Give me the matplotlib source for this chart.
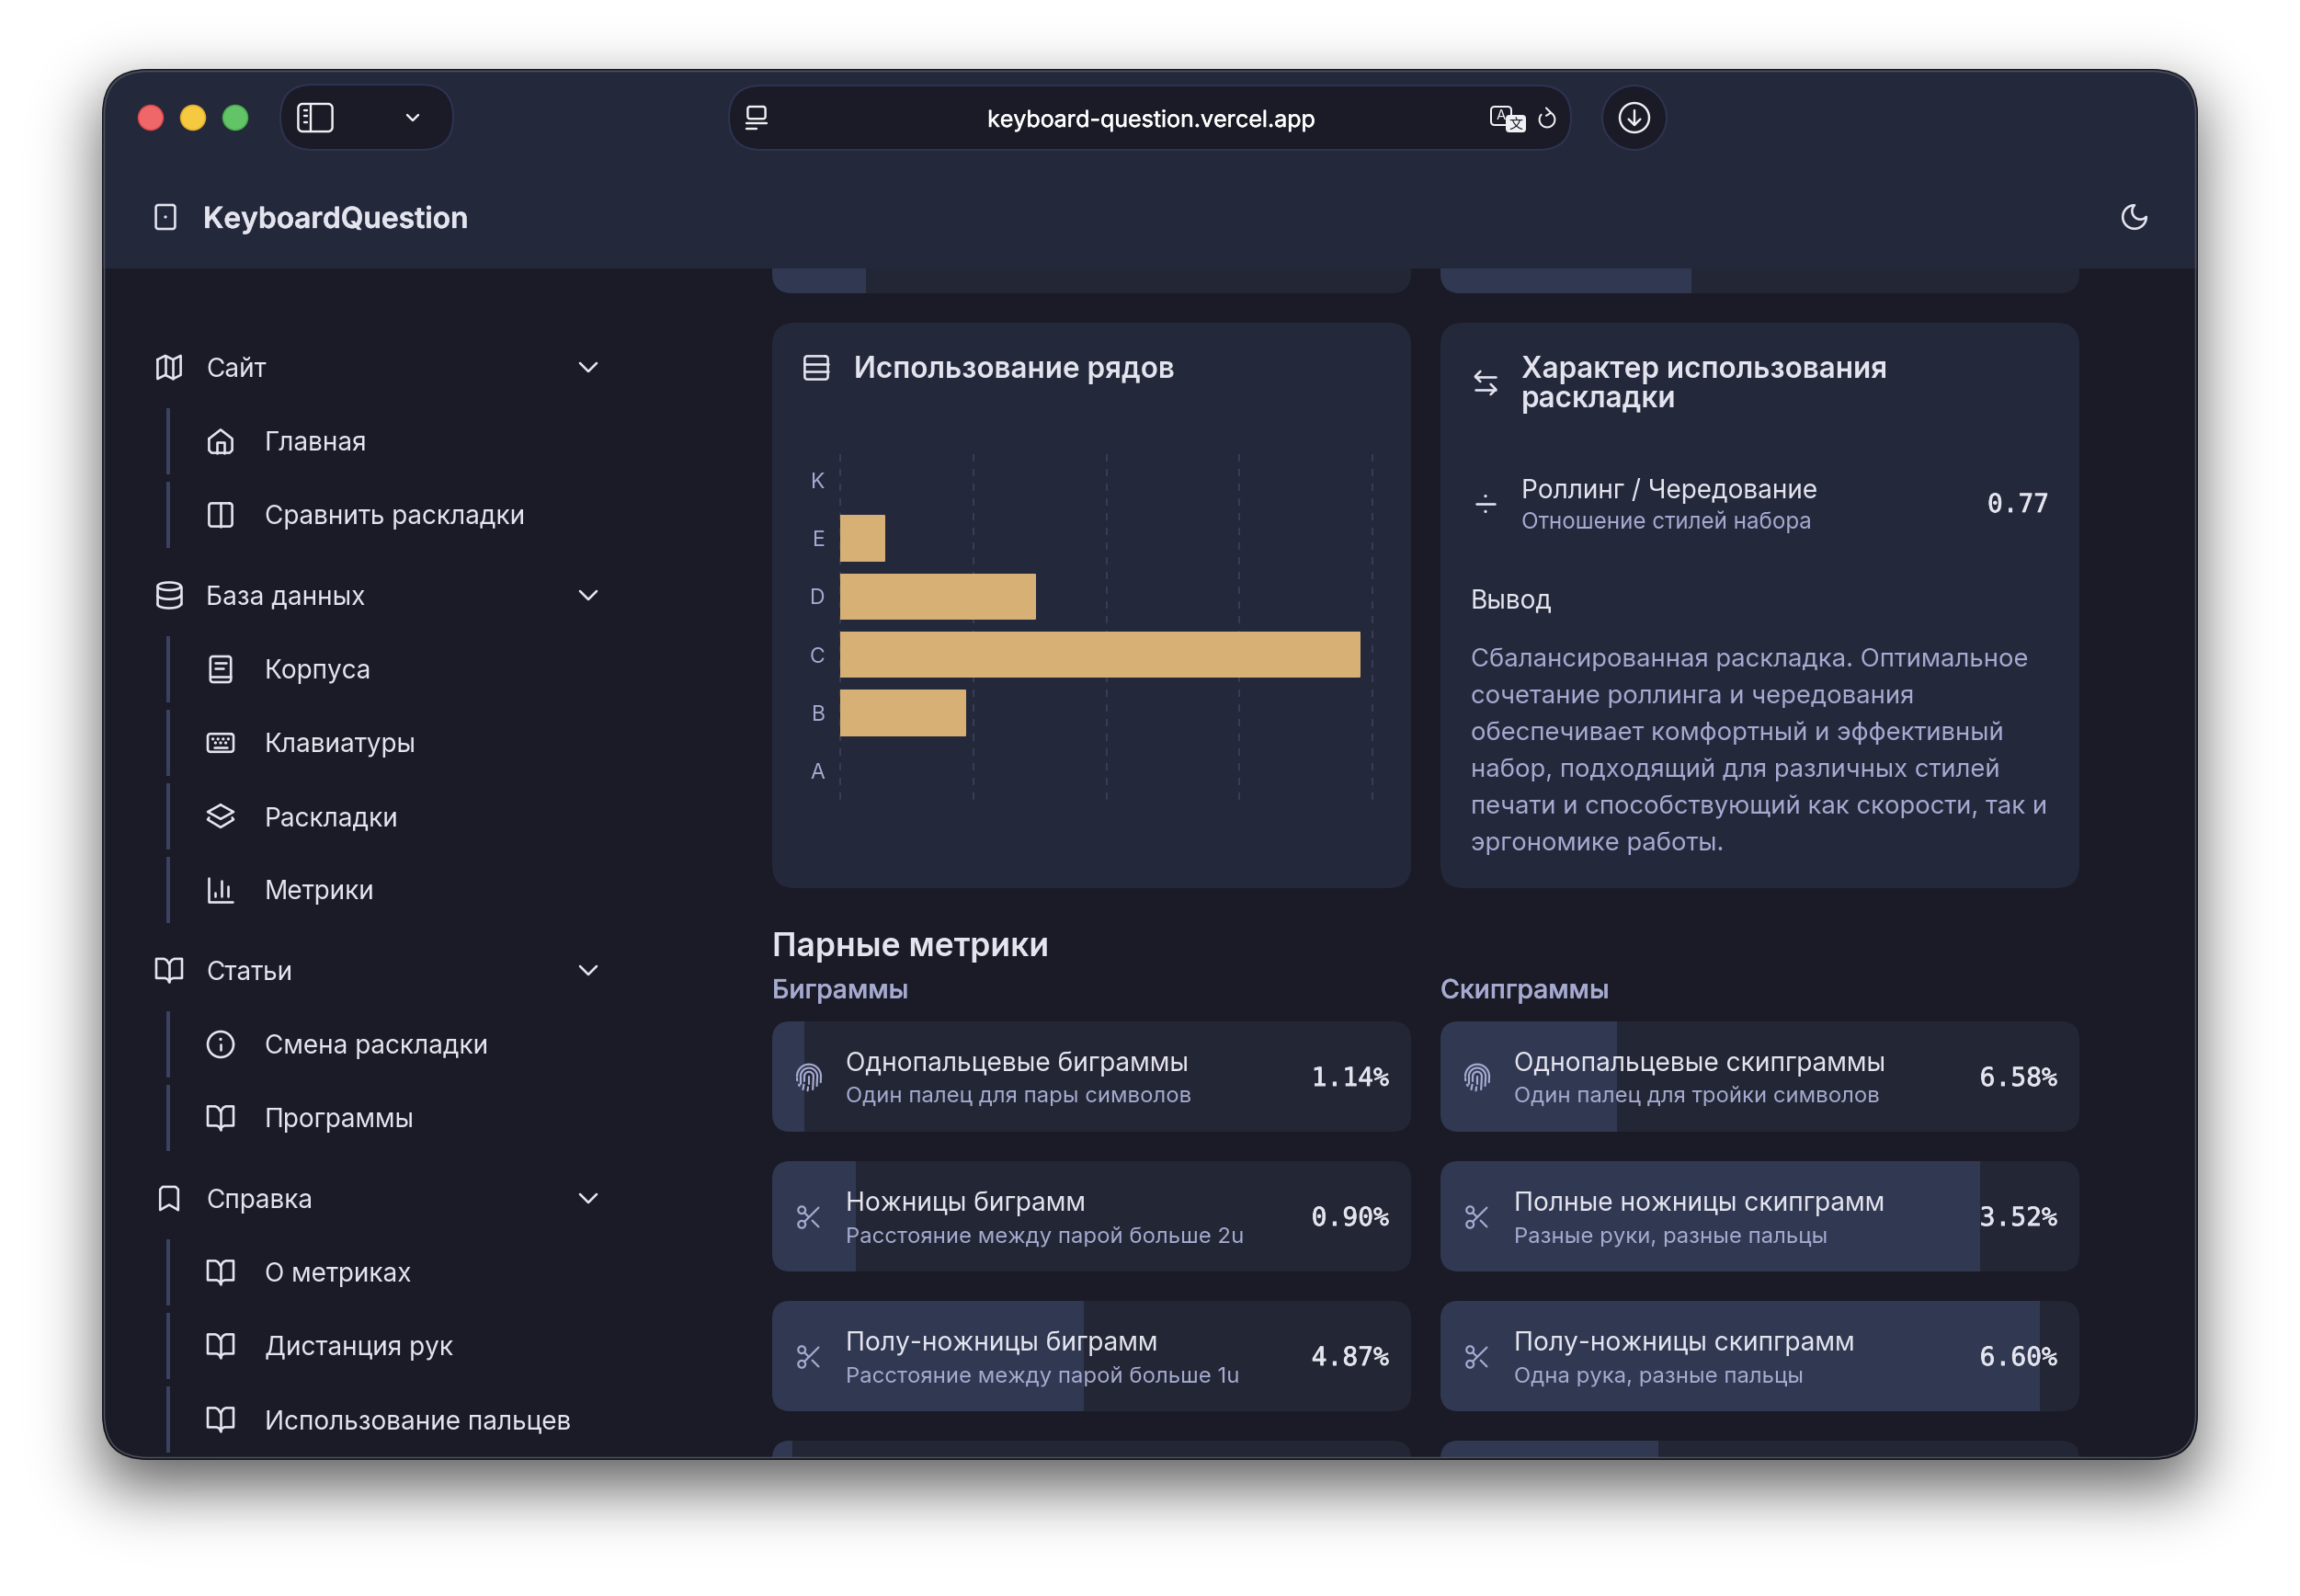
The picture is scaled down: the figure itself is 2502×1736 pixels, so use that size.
import math
import numpy as np
import matplotlib
matplotlib.use("Agg")
import matplotlib.pyplot as plt
import matplotlib.patheffects as pe
from matplotlib.patches import FancyBboxPatch, Rectangle, Circle

W, H = 2502, 1736

BG = "#1a1b26"
PANEL = "#24283b"
CARD = "#232634"
FILL = "#313852"
LINE = "#3b4163"
TEXT = "#e3e4ee"
MUTED = "#a5aad0"
GOLD = "#d6b075"

# sidebar content
nav_sections = ["Сайт", "База данных", "Статьи", "Справка"]
nav_section_icons = ["map", "database", "book", "bookmark"]
nav_items = [
    ["Главная", "Сравнить раскладки"],
    ["Корпуса", "Клавиатуры", "Раскладки", "Метрики"],
    ["Смена раскладки", "Программы"],
    ["О метриках", "Дистанция рук", "Использование пальцев"],
]
nav_item_icons = [
    ["home", "columns"],
    ["booktext", "keyboard", "layers", "chart"],
    ["info", "book"],
    ["book", "book", "book"],
]

# row usage chart
rows = ["K", "E", "D", "C", "B", "A"]
row_usage = [0.0, 5.0, 22.0, 58.6, 14.1, 0.0]
row_ticks = [0, 15, 30, 45, 60]

# metrics
bigram_titles = ["Однопальцевые биграммы", "Ножницы биграмм", "Полу-ножницы биграмм"]
bigram_subs = ["Один палец для пары символов", "Расстояние между парой больше 2u", "Расстояние между парой больше 1u"]
bigram_values = ["1.14%", "0.90%", "4.87%"]
bigram_fill = [5.0, 13.1, 48.8, 3.2]
bigram_top_fill = 14.7

skip_titles = ["Однопальцевые скипграммы", "Полные ножницы скипграмм", "Полу-ножницы скипграмм"]
skip_subs = ["Один палец для тройки символов", "Разные руки, разные пальцы", "Одна рука, разные пальцы"]
skip_values = ["6.58%", "3.52%", "6.60%"]
skip_fill = [27.6, 84.5, 93.8, 34.1]
skip_top_fill = 39.3

metric_icons = ["finger", "scissors", "scissors"]

summary_lines = [
    "Сбалансированная раскладка. Оптимальное",
    "сочетание роллинга и чередования",
    "обеспечивает комфортный и эффективный",
    "набор, подходящий для различных стилей",
    "печати и способствующий как скорости, так и",
    "эргономике работы.",
]

plt.rcParams["font.family"] = ["Inter", "DejaVu Sans"]

fig = plt.figure(figsize=(W / 100, H / 100), dpi=100, facecolor="white")
ax = fig.add_axes([0, 0, 1, 1])
ax.axis("off")

# window shadow
erf = np.vectorize(math.erf)
xs = np.arange(W) + 0.5
ys = np.arange(H) + 0.5
sigma = 35 * math.sqrt(2)
fx = 0.5 * (erf((xs - 112) / sigma) - erf((xs - 2390) / sigma))
fy = 0.5 * (erf((ys - 104) / sigma) - erf((ys - 1616) / sigma))
shadow = np.zeros((H, W, 4))
shadow[..., 3] = 0.66 * np.outer(fy, fx)
ax.imshow(shadow, extent=(0, W, H, 0), aspect="auto", zorder=0)
ax.set_xlim(0, W)
ax.set_ylim(H, 0)


def px(v):
    return v * 0.72


def rbox(x0, y0, x1, y1, r, fc="none", ec="none", lw=0, z=2):
    p = FancyBboxPatch((x0, y0), x1 - x0, y1 - y0, boxstyle=f"round,pad=0,rounding_size={r}",
                       fc=fc, ec=ec, lw=px(lw), zorder=z)
    ax.add_patch(p)
    return p


def label(x, y, s, size, color=TEXT, weight="normal", ha="left", family=None, z=6, heavy=0):
    # y is the visual middle of the line, heavy thickens the strokes a little
    kw = {"family": family} if family else {}
    t = ax.text(x, y + 0.36 * size, s, fontsize=px(size), color=color, fontweight=weight,
                ha=ha, va="baseline", zorder=z, **kw)
    if heavy:
        t.set_path_effects([pe.withStroke(linewidth=px(heavy), foreground=color)])
    return t


def arc_pts(cx, cy, r, a0, a1, n=40, ry=None):
    t = np.radians(np.linspace(a0, a1, n))
    return list(zip(cx + r * np.cos(t), cy + (ry if ry else r) * np.sin(t)))


def rrect_pts(x0, y0, x1, y1, r):
    pts = []
    pts += arc_pts(x1 - r, y0 + r, r, -90, 0, 8)
    pts += arc_pts(x1 - r, y1 - r, r, 0, 90, 8)
    pts += arc_pts(x0 + r, y1 - r, r, 90, 180, 8)
    pts += arc_pts(x0 + r, y0 + r, r, 180, 270, 8)
    pts.append(pts[0])
    return pts


def dot(x, y):
    return [(x, y)]


ICONS = {
    "map": [[(3, 6), (9, 3), (15, 6), (21, 3), (21, 18), (15, 21), (9, 18), (3, 21), (3, 6)],
            [(9, 3), (9, 18)], [(15, 6), (15, 21)]],
    "home": [[(3, 10), (12, 3), (21, 10), (21, 19), (19, 21), (5, 21), (3, 19), (3, 10)],
             [(9, 21), (9, 13), (15, 13), (15, 21)]],
    "columns": [rrect_pts(3, 3, 21, 21, 2), [(12, 3), (12, 21)]],
    "database": [arc_pts(12, 5, 9, 0, 360, ry=3), [(3, 5), (3, 19)], [(21, 5), (21, 19)],
                 arc_pts(12, 12, 9, 0, 180, ry=3), arc_pts(12, 19, 9, 0, 180, ry=3)],
    "booktext": [rrect_pts(4, 2, 20, 22, 2), [(4, 18), (20, 18)], [(8, 7), (16, 7)], [(8, 11), (14, 11)]],
    "keyboard": [rrect_pts(2, 5, 22, 19, 2), [(7, 15.5), (17, 15.5)],
                 dot(6, 9), dot(10, 9), dot(14, 9), dot(18, 9), dot(8, 12), dot(12, 12), dot(16, 12)],
    "layers": [[(12, 3), (22, 8.5), (12, 14), (2, 8.5), (12, 3)], [(3, 13), (2, 14.5), (12, 20.5), (22, 14.5), (21, 13)]],
    "chart": [[(3, 3), (3, 21), (21, 21)], [(8, 17), (8, 14)], [(13, 17), (13, 5)], [(18, 17), (18, 9)]],
    "book": [[(12, 7), (12, 21)],
             [(12, 7), (10, 4), (8, 3), (2, 3), (2, 18), (9, 18), (11, 19), (12, 21)],
             [(12, 7), (14, 4), (16, 3), (22, 3), (22, 18), (15, 18), (13, 19), (12, 21)]],
    "bookmark": [[(19, 21), (12, 17), (5, 21), (5, 5), (7, 3), (17, 3), (19, 5), (19, 21)]],
    "info": [arc_pts(12, 12, 10, 0, 360), [(12, 16), (12, 12)], dot(12, 8)],
    "rows": [rrect_pts(3, 3, 21, 21, 2), [(3, 9), (21, 9)], [(3, 15), (21, 15)]],
    "swap": [[(8, 3), (4, 7), (8, 11)], [(4, 7), (20, 7)], [(16, 21), (20, 17), (16, 13)], [(20, 17), (4, 17)]],
    "divide": [[(5, 12), (19, 12)], dot(12, 6), dot(12, 18)],
    "scissors": [arc_pts(6, 6, 3, 0, 360), arc_pts(6, 18, 3, 0, 360), [(8.1, 8.1), (12, 12)],
                 [(20, 4), (8.1, 15.9)], [(14.8, 14.8), (20, 20)]],
    "finger": [arc_pts(12, 11, 10, 180, 360, 30), arc_pts(12, 11, 7, 180, 360, 30), arc_pts(12, 11, 3.8, 180, 360, 20),
               [(2, 12.5), (2.2, 14.5)], [(22, 11), (21.8, 16)], [(5, 11), (5, 17)], [(3.5, 18), (4, 19)],
               [(8.2, 11), (8.2, 15)], [(7.8, 18), (7, 22)], [(12, 11), (12, 17)], [(11.3, 20), (10.9, 23)],
               [(15.8, 11), (15.2, 22)], [(19, 11), (18.6, 19)]],
    "moon": [arc_pts(12, 12, 9, 0, 270) + arc_pts(16.5, 7.5, 6.36, 225, 45, 24)],
    "square": [rrect_pts(4, 2, 20, 22, 2), dot(12, 12)],
    "tab": [rrect_pts(4, 2, 20, 13, 2), [(3, 17), (21, 17)], [(3, 22), (12, 22)]],
    "sidebar": [rrect_pts(0, 2.3, 24, 21.7, 3), [(9, 2.3), (9, 21.7)], [(4, 7), (6, 7)], [(4, 11), (6, 11)], [(4, 15), (6, 15)]],
    "chevron": [[(6, 9), (12, 15), (18, 9)]],
    "reload": [arc_pts(12, 13, 8, -60, 220, 30), [(11, 1), (16, 6), (11, 9)]],
    "download": [arc_pts(12, 12, 10, 0, 360), [(12, 7), (12, 17)], [(8, 13), (12, 17), (16, 13)]],
}


def icon(name, cx, cy, s, color=TEXT, lw=2.6, z=6):
    for part in ICONS[name]:
        pts = np.array(part)
        xp = cx + (pts[:, 0] - 12) * s
        yp = cy + (pts[:, 1] - 12) * s
        if len(part) == 1:
            ax.add_patch(Circle((xp[0], yp[0]), lw * 0.62, fc=color, ec="none", zorder=z))
        else:
            ax.plot(xp, yp, color=color, lw=px(lw), solid_capstyle="round", solid_joinstyle="round", zorder=z)


# window
window = rbox(112, 76, 2390, 1587, 48, fc=BG, ec="#15161c", lw=2, z=1)
ax.add_patch(FancyBboxPatch((113.5, 77.5), 2275, 1508, boxstyle="round,pad=0,rounding_size=47",
                            fc="none", ec="#4c4f5c", lw=px(1.5), zorder=8))

# title bar
head = Rectangle((112, 76), 2278, 216, fc=PANEL, ec="none", zorder=1.8)
ax.add_patch(head)
head.set_clip_path(window)

for cx, fc, ec in [(164, "#f0676a", "#d8474a"), (210, "#f5c940", "#dcab2c"), (256, "#62c466", "#47a94d")]:
    ax.add_patch(Circle((cx, 128), 13.5, fc=fc, ec=ec, lw=px(1.5), zorder=3))

rbox(305, 92, 493, 163, 35, fc=BG, ec="#2f3352", lw=2, z=2)
rbox(793, 93, 1709, 163, 35, fc=BG, ec="#2f3352", lw=2, z=2)
ax.add_patch(Circle((1778, 128), 35, fc=BG, ec="#2f3352", lw=px(2), zorder=2))

icon("sidebar", 343, 128, 1.55, color="#f0f0f4", lw=2.4)
icon("chevron", 449, 128, 1.0, color="#f0f0f4", lw=2.4)
icon("tab", 823, 128, 1.2, color="#f0f0f4", lw=2.4)
label(1252, 129, "keyboard-question.vercel.app", 25, color="#ffffff", ha="center", heavy=0.5)
rbox(1622, 116, 1644, 136, 4, ec="#f0f0f4", lw=2, z=5)
label(1633, 125, "A", 15, color="#f0f0f4", ha="center")
rbox(1638, 125, 1660, 144, 4, fc="#f0f0f4", z=6)
label(1649, 134, "文", 15, color=BG, ha="center", family=["Noto Sans CJK SC", "DejaVu Sans"], z=7)
icon("reload", 1683, 129, 1.05, color="#f0f0f4", lw=2)
icon("download", 1778, 128, 1.6, color="#f0f0f4", lw=2.4)

icon("square", 180, 236, 1.3, lw=2.6)
label(221, 236.5, "KeyboardQuestion", 31.8, weight="semibold", heavy=0.4)
icon("moon", 2322, 236, 1.42, lw=2.6)

# sidebar
y = 399.5
for sec, sec_icon, items, item_icons in zip(nav_sections, nav_section_icons, nav_items, nav_item_icons):
    icon(sec_icon, 184, y, 1.4)
    label(224, y, sec, 28)
    icon("chevron", 640, y, 1.5, lw=2.6)
    y += 80.5
    for it, it_icon in zip(items, item_icons):
        ax.add_patch(Rectangle((181, y - 36), 4, 72, fc=LINE, ec="none", zorder=3))
        icon(it_icon, 240, y, 1.4)
        label(288, y, it, 28)
        y += 80
    y += 7.5

# cards above the fold
for x0, frac in [(840, bigram_top_fill), (1567, skip_top_fill)]:
    top = rbox(x0, 250, x0 + 695, 319, 22, fc=CARD, z=1.6)
    r = Rectangle((x0, 250), 695 * frac / 100, 69, fc=FILL, ec="none", zorder=1.7)
    ax.add_patch(r)
    r.set_clip_path(top)

# row usage card
rbox(840, 351, 1535, 966, 25, fc=PANEL)
icon("rows", 888, 400, 1.4)
label(929, 399.5, "Использование рядов", 31.5, weight="semibold")

ax_rows = fig.add_axes([914 / W, 1 - 870.5 / H, 579 / W, 380 / H], zorder=5)
ax_rows.patch.set_alpha(0)
ax_rows.barh(np.arange(len(rows)), row_usage, height=0.765, color=GOLD, edgecolor=GOLD,
             linewidth=[px(2) if v > 0 else 0 for v in row_usage], joinstyle="round", zorder=3)
ax_rows.set_xlim(row_ticks[0], row_ticks[-1])
ax_rows.set_ylim(len(rows) - 0.5, -0.5)
ax_rows.set_yticks(np.arange(len(rows)), rows)
ax_rows.set_xticks(row_ticks, [])
ax_rows.tick_params(length=0, pad=px(16.5), labelsize=px(23), labelcolor=MUTED)
ax_rows.grid(axis="x", color="#383c54", lw=px(2), linestyle=(0, (4, 4)))
ax_rows.grid(axis="y", visible=False)
ax_rows.set_axisbelow(True)
for sp in ax_rows.spines.values():
    sp.set_visible(False)
for grid_line in ax_rows.get_xgridlines():
    grid_line.set_clip_on(False)

# layout character card
rbox(1567, 351, 2262, 966, 25, fc=PANEL)
icon("swap", 1616, 416.5, 1.4)
label(1655, 399.5, "Характер использования", 31.5, weight="semibold")
label(1655, 431.5, "раскладки", 31.5, weight="semibold")
icon("divide", 1616, 548, 1.4)
label(1655, 532, "Роллинг / Чередование", 28)
label(1655, 566.5, "Отношение стилей набора", 24.2, color=MUTED)
label(2229, 547, "0.77", 27.8, ha="right", family="DejaVu Sans Mono", heavy=0.7)
label(1599.5, 651, "Вывод", 28)
for i, line in enumerate(summary_lines):
    label(1599.5, 715.5 + i * 40, line, 27.45, color=MUTED)

# pair metrics
label(840, 1027, "Парные метрики", 35.5, weight="semibold")
label(840, 1075.5, "Биграммы", 28.5, color=MUTED, weight="medium", heavy=0.3)
label(1567, 1075.5, "Скипграммы", 28.5, color=MUTED, weight="medium", heavy=0.3)


def metric_column(x0, fills, titles, subs, values):
    for i, frac in enumerate(fills):
        y0 = 1111 + i * 152
        h = min(120, 1585 - y0)
        card = rbox(x0, y0, x0 + 695, y0 + 120, 20, fc=CARD, z=2)
        if i == 3:
            # the fourth row runs off the bottom of the window
            card.set_clip_path(Rectangle((x0, y0), 695, h, transform=ax.transData))
        r = Rectangle((x0, y0), 695 * frac / 100, h, fc=FILL, ec="none", zorder=2.5)
        ax.add_patch(r)
        r.set_clip_path(rbox(x0, y0, x0 + 695, y0 + 120, 20, z=1.9))
        if i < len(titles):
            icon(metric_icons[i], x0 + 40, y0 + 61, 1.3, color=MUTED, lw=2.2)
            label(x0 + 80, y0 + 44, titles[i], 28.2)
            label(x0 + 80, y0 + 79.5, subs[i], 23.9, color=MUTED)
            label(x0 + 671, y0 + 60, values[i], 28, ha="right", family="DejaVu Sans Mono", heavy=0.7)


metric_column(840, bigram_fill, bigram_titles, bigram_subs, bigram_values)
metric_column(1567, skip_fill, skip_titles, skip_subs, skip_values)

fig.savefig("out.png", dpi=100, facecolor="white")
